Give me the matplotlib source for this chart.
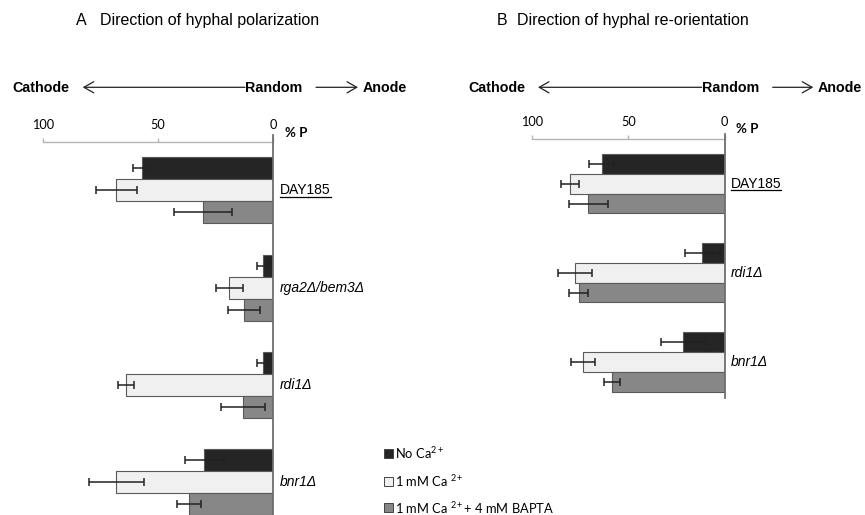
import matplotlib
matplotlib.use("Agg")
import matplotlib.pyplot as plt
from matplotlib.patches import Rectangle
from matplotlib.lines import Line2D

# ---------------- data ----------------
A_cats = ["DAY185", "rga2Δ/bem3Δ", "rdi1Δ", "bnr1Δ"]
A_no = [57, 4.6, 4.6, 30]
A_no_err = [4, 2.3, 2.3, 8.5]
A_ca = [68, 19, 64, 68]
A_ca_err = [8.7, 5.8, 3.5, 12]
A_bapta = [30.5, 12.7, 13.3, 36.5]
A_bapta_err = [12.5, 7.1, 9.5, 5.3]

B_cats = ["DAY185", "rdi1Δ", "bnr1Δ"]
B_no = [63.7, 11.6, 21.4]
B_no_err = [6.4, 9.2, 11.6]
B_ca = [80.3, 77.4, 73.4]
B_ca_err = [4.6, 8.8, 6.1]
B_bapta = [70.6, 75.6, 58.5]
B_bapta_err = [10.3, 4.9, 4.1]

ticks = [100, 50, 0]
series_labels = ["No Ca$^{2+}$", "1 mM Ca $^{2+}$", "1 mM Ca $^{2+}$+ 4 mM BAPTA"]
colors = ["#252525", "#f0f0f0", "#878787"]

W, H = 865, 515
fig = plt.figure(figsize=(W / 100, H / 100), dpi=100)
plt.rcParams["mathtext.fontset"] = "custom"
plt.rcParams["mathtext.rm"] = "Lato"
plt.rcParams["mathtext.it"] = "Lato:italic"

def fx(x):
    return x / W

def fy(y):
    return 1 - y / H

SANS = "Liberation Sans"
TICKF = "Lato"

def panel(rect, cats, vals, errs, h, ylim, line_top):
    ax = fig.add_axes(rect)
    n = len(cats)
    for k in range(3):
        ys = [i + (k - 1) * h for i in range(n)]
        ax.barh(ys, vals[k], height=h, color=colors[k], edgecolor="#5a5a5a",
                linewidth=0.8, zorder=2)
        ax.errorbar(vals[k], ys, xerr=errs[k], fmt="none", ecolor="#222222",
                    elinewidth=1.1, capsize=3.2, capthick=1.1, zorder=3)
    ax.set_xlim(100, 0)
    ax.set_ylim(*ylim)
    for s in ["left", "bottom", "right"]:
        ax.spines[s].set_visible(False)
    ax.spines["top"].set_color("#b5b5b5")
    ax.spines["top"].set_linewidth(1.0)
    ax.plot([0, 0], [line_top, ylim[0]], color="#6e6e6e", lw=1.3,
            clip_on=False, zorder=4)
    ax.xaxis.tick_top()
    ax.set_xticks(ticks)
    ax.set_xticklabels([str(t) for t in ticks], fontsize=9.2, family=TICKF)
    ax.tick_params(axis="x", direction="out", length=3, color="#b5b5b5",
                   width=1.0, pad=5)
    ax.set_yticks([])
    ax.patch.set_visible(False)
    return ax

# Panel A
axA = panel([fx(42.7), 0.0, fx(273.3) - fx(42.7), (515 - 141.7) / H],
            A_cats, [A_no, A_ca, A_bapta], [A_no_err, A_ca_err, A_bapta_err],
            22 / 97.3, (3.337, -0.5), -0.57)
# Panel B
axB = panel([fx(531.7), (515 - 398) / H, fx(724.7) - fx(531.7), (398 - 139.3) / H],
            B_cats, [B_no, B_ca, B_bapta], [B_no_err, B_ca_err, B_bapta_err],
            19.7 / 89, (2.405, -0.5), -0.56)

# category labels
def cat_labels(ax, cats, dx_px, ul_dy):
    for i, c in enumerate(cats):
        style = "normal" if c == "DAY185" else "italic"
        t = ax.annotate(c, xy=(0, i), xycoords="data", xytext=(dx_px * 0.72, 0),
                        textcoords="offset points", ha="left", va="center",
                        fontsize=10, family=SANS, style=style)
        if c == "DAY185":
            fig.canvas.draw()
            bb = t.get_window_extent()
            y = bb.y0 + ul_dy
            fig.add_artist(Line2D([bb.x0 / W, bb.x1 / W], [y / H, y / H],
                                  color="black", lw=0.9))

cat_labels(axA, A_cats, 6.7, 0.5)
cat_labels(axB, B_cats, 6.0, 0.5)

# titles
fig.text(fx(76), fy(25), "A", fontsize=11.5, family=SANS, va="baseline")
fig.text(fx(100), fy(25), "Direction of hyphal polarization", fontsize=11.5,
         family=SANS, va="baseline")
fig.text(fx(496.7), fy(25), "B", fontsize=11.5, family=SANS, va="baseline")
fig.text(fx(517.3), fy(25), "Direction of hyphal re-orientation", fontsize=11.5,
         family=SANS, va="baseline")

# direction headers
def header(xc, xa1, xr, xa2, xan):
    fig.text(fx(xc), fy(92.3), "Cathode", fontsize=10.3, family=SANS,
             weight="bold", va="baseline")
    fig.text(fx(xr), fy(92.3), "Random", fontsize=10.3, family=SANS,
             weight="bold", va="baseline")
    fig.text(fx(xan), fy(92.3), "Anode", fontsize=10.3, family=SANS,
             weight="bold", va="baseline")
    fig.add_artist(matplotlib.patches.FancyArrowPatch(
        (fx(xa1[1]), fy(87.3)), (fx(xa1[0]), fy(87.3)), transform=fig.transFigure,
        arrowstyle="->,head_length=7,head_width=4", lw=0.9, color="#222222",
        mutation_scale=1, shrinkA=0, shrinkB=0))
    fig.add_artist(matplotlib.patches.FancyArrowPatch(
        (fx(xa2[0]), fy(87.3)), (fx(xa2[1]), fy(87.3)), transform=fig.transFigure,
        arrowstyle="->,head_length=7,head_width=4", lw=0.9, color="#222222",
        mutation_scale=1, shrinkA=0, shrinkB=0))

header(12.7, (82.7, 245), 245.5, (316, 358), 363)
header(468.3, (538, 701.7), 702, (772.7, 813.3), 818)

# % P
fig.text(fx(285), fy(137.3), "% P", fontsize=9.5, family=TICKF, weight="bold",
         va="baseline")
fig.text(fx(736), fy(133.3), "% P", fontsize=9.5, family=TICKF, weight="bold",
         va="baseline")

# legend
leg_y = [453.3, 481, 507.7]
for lab, col, y in zip(series_labels, colors, leg_y):
    fig.add_artist(Rectangle((fx(383.5), fy(y + 4.5)), 9 / W, 9 / H,
                             transform=fig.transFigure, facecolor=col,
                             edgecolor="#444444", lw=0.7))
    fig.text(fx(395), fy(y), lab, fontsize=9.3, family=TICKF, va="center")

fig.savefig("out.png", dpi=100)
